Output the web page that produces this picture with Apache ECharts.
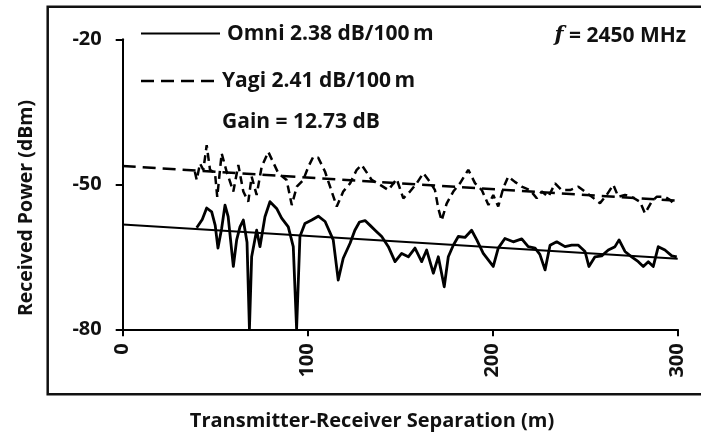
<!DOCTYPE html>
<html>
<head>
<meta charset="utf-8">
<script src="https://cdn.jsdelivr.net/npm/echarts@6/dist/echarts.min.js"></script>
<style>
  html, body { margin: 0; padding: 0; background: #fff; }
  #chart { width: 701px; height: 436px; }
</style>
</head>
<body>
<div id="chart"></div>
<script>
// measured received power, omni antenna (m, dBm)
var omniDist = [40, 43, 45.4, 48.1, 50, 51.5, 53.5, 55.3, 57, 59.8, 61.6, 63.4, 65.2, 67.2, 68.5, 69.7,
  72.4, 74.2, 76.9, 79.6, 83.2, 85.9, 89.5, 92.2, 94, 95.8, 98.5, 102.2, 105.7, 109.4, 113.8, 116.5,
  119.2, 122.9, 125.5, 128, 131, 134, 136.4, 140, 143.6, 147.2, 150.8, 154.4, 158, 161.6, 164.3, 167.9,
  170.6, 173.8, 176, 178.7, 181.4, 185, 188.6, 191.4, 194.9, 200.3, 203, 206.6, 211.1, 215.7, 219.2,
  222.9, 225.5, 228.3, 231, 234.6, 239.1, 242.7, 246.3, 249.9, 252, 255.3, 258.9, 262.5, 266.1, 268.3,
  271.5, 275.1, 278.7, 281.4, 284.1, 286.8, 289.5, 293.1, 296.8, 299.5];
var omniPower = [-59.0, -57.3, -54.9, -55.7, -58.5, -63.2, -59.1, -54.3, -56.7, -67.0, -61.5, -58.8, -57.4, -62.0, -80, -65.0,
  -59.5, -62.9, -56.7, -53.6, -55.0, -57.0, -58.8, -62.9, -80, -60.8, -58.1, -57.4, -56.6, -57.7, -61.5, -69.8,
  -65.3, -62.2, -59.5, -57.8, -57.5, -58.6, -59.5, -60.8, -62.9, -66.0, -64.3, -65.0, -63.2, -66.0, -63.6, -68.4,
  -65.0, -71.2, -65.0, -62.6, -60.8, -61.0, -59.5, -61.5, -64.3, -67.0, -63.2, -61.2, -61.9, -61.3, -62.9,
  -63.2, -64.5, -67.7, -62.6, -61.9, -62.9, -62.6, -62.6, -63.9, -67.0, -65.0, -64.8, -63.6, -62.9, -61.5,
  -63.9, -65.0, -66.0, -67.0, -66.0, -67.0, -62.9, -63.6, -64.8, -65.0];

// measured received power, yagi antenna (m, dBm)
var yagiDist = [39, 40, 41.8, 43.6, 45.4, 47.2, 49.9, 51.1, 53.5, 56.2, 59.8, 62.5, 65.2, 67.9, 69.7, 72.4,
  75.1, 78.7, 81.4, 84.1, 88.6, 91.4, 94.1, 97.6, 100.3, 103, 105.7, 109.4, 112.1, 115.7, 119.2, 122.9,
  126.5, 129.2, 134.6, 139.1, 143.6, 148.1, 151.7, 155.3, 158.9, 162.5, 166.1, 168.8, 170.6, 172.4, 175.1,
  178.7, 182.3, 186.8, 190.5, 194.1, 197.7, 200.3, 203, 205.7, 208.4, 212, 215.7, 220.2, 223.8, 226.5,
  230.1, 233.7, 237.3, 241.8, 246.3, 249.9, 253.6, 258, 261.6, 265.2, 267.9, 271.5, 275.1, 279.6, 282.3,
  285.9, 288.6, 293.1, 295.8, 298.5];
var yagiPower = [-47.4, -49.1, -45.7, -47.0, -41.9, -47.0, -47.7, -52.6, -43.6, -47.4, -51.5, -46.0, -51.5, -53.6, -48.4, -52.2,
  -46.4, -43.3, -45.5, -47.7, -49.1, -54.3, -50.5, -49.1, -46.4, -44.3, -44.5, -47.4, -50.5, -54.6, -51.5, -49.8,
  -47.0, -46.0, -49.1, -50.1, -51.2, -48.9, -52.9, -51.5, -49.8, -47.7, -49.5, -51.2, -55.0, -57.5, -54.0,
  -51.5, -49.8, -47.0, -49.8, -51.2, -54.3, -52.2, -54.6, -50.8, -48.4, -49.5, -50.5, -51.2, -52.9, -51.5,
  -52.6, -49.8, -51.2, -51.2, -50.5, -51.5, -52.6, -53.9, -52.2, -50.1, -52.6, -52.2, -52.6, -53.6, -56.0,
  -53.6, -52.6, -52.6, -53.2, -54.3];

// linear fits
var fitDist = [0, 300];
var omniFit = [-58.3, -65.4];
var yagiFit = [-46.2, -53.4];

var xTicks = [0, 100, 200, 300];
var yTicks = [-80, -50, -20];

function pairs(xs, ys) {
  return xs.map(function (x, i) { return [x, ys[i]]; });
}

var font = '"Open Sans", "Liberation Sans", sans-serif';

var chart = echarts.init(document.getElementById('chart'), null, { renderer: 'canvas' });

option = {
  backgroundColor: '#fff',
  animation: false,
  grid: { left: 122.7, right: 23.3, top: 39.3, bottom: 106.7 },
  xAxis: {
    type: 'value',
    min: xTicks[0],
    max: xTicks[xTicks.length - 1],
    interval: 100,
    axisLine: { onZero: false, lineStyle: { color: '#000', width: 2 } },
    axisTick: { show: true, inside: false, length: 7, lineStyle: { color: '#000', width: 2 } },
    axisLabel: { rotate: 90, margin: 14, color: '#111', fontFamily: font, fontWeight: 'bold', fontSize: 20 },
    splitLine: { show: false }
  },
  yAxis: {
    type: 'value',
    min: yTicks[0],
    max: yTicks[yTicks.length - 1],
    interval: 30,
    axisLine: { show: true, onZero: false, lineStyle: { color: '#000', width: 2 } },
    axisTick: { show: true, inside: false, length: 7, lineStyle: { color: '#000', width: 2 } },
    axisLabel: { margin: 21, color: '#111', fontFamily: font, fontWeight: 'bold', fontSize: 20 },
    splitLine: { show: false }
  },
  graphic: [
    { type: 'rect', shape: { x: 47.7, y: 6.7, width: 700, height: 387.6 },
      style: { fill: 'none', stroke: '#111', lineWidth: 2.5 }, z: 0 },
    // annotations / legend
    { type: 'line', shape: { x1: 141, y1: 33.5, x2: 220, y2: 33.5 },
      style: { stroke: '#000', lineWidth: 2 } },
    { type: 'line', shape: { x1: 141, y1: 81, x2: 214, y2: 81 },
      style: { stroke: '#000', lineWidth: 2.5, lineDash: [13, 7] } },
    { type: 'text', x: 227, y: 34, style: { text: 'Omni 2.38 dB/100\u2009m', fill: '#111',
      font: 'bold 21px ' + font, textVerticalAlign: 'middle' } },
    { type: 'text', x: 222, y: 81, style: { text: 'Yagi 2.41 dB/100\u2009m', fill: '#111',
      font: 'bold 21px ' + font, textVerticalAlign: 'middle' } },
    { type: 'text', x: 222, y: 122, style: { text: 'Gain = 12.73 dB', fill: '#111',
      font: 'bold 21px ' + font, textVerticalAlign: 'middle' } },
    { type: 'text', x: 686, y: 36, style: {
      text: '{i|f} = 2450 MHz',
      rich: { i: { fontStyle: 'italic', fontFamily: '"DejaVu Serif", serif', fontSize: 21, fontWeight: 'bold', fill: '#111' } },
      fill: '#111', font: 'bold 21px ' + font, align: 'right', verticalAlign: 'middle' } },
    // axis titles
    { type: 'text', x: 26, y: 208, rotation: Math.PI / 2, style: {
      text: 'Received Power (dBm)', fill: '#111', font: 'bold 19.5px ' + font,
      align: 'center', verticalAlign: 'middle' } },
    { type: 'text', x: 372, y: 421, style: {
      text: 'Transmitter-Receiver Separation (m)', fill: '#111', font: 'bold 20px ' + font,
      align: 'center', verticalAlign: 'middle' } }
  ],
  series: [
    {
      name: 'Omni fit', type: 'line', data: pairs(fitDist, omniFit), showSymbol: false,
      lineStyle: { color: '#000', width: 2 }, z: 2
    },
    {
      name: 'Yagi fit', type: 'line', data: pairs(fitDist, yagiFit), showSymbol: false,
      lineStyle: { color: '#000', width: 2.5, type: [13, 7] }, z: 2
    },
    {
      name: 'Omni', type: 'line', data: pairs(omniDist, omniPower), showSymbol: false,
      lineStyle: { color: '#000', width: 2.8, join: 'round' }, z: 3
    },
    {
      name: 'Yagi', type: 'line', data: pairs(yagiDist, yagiPower), showSymbol: false,
      lineStyle: { color: '#000', width: 2.5, type: [8, 5] }, z: 3
    }
  ]
};

chart.setOption(option);
</script>
</body>
</html>
